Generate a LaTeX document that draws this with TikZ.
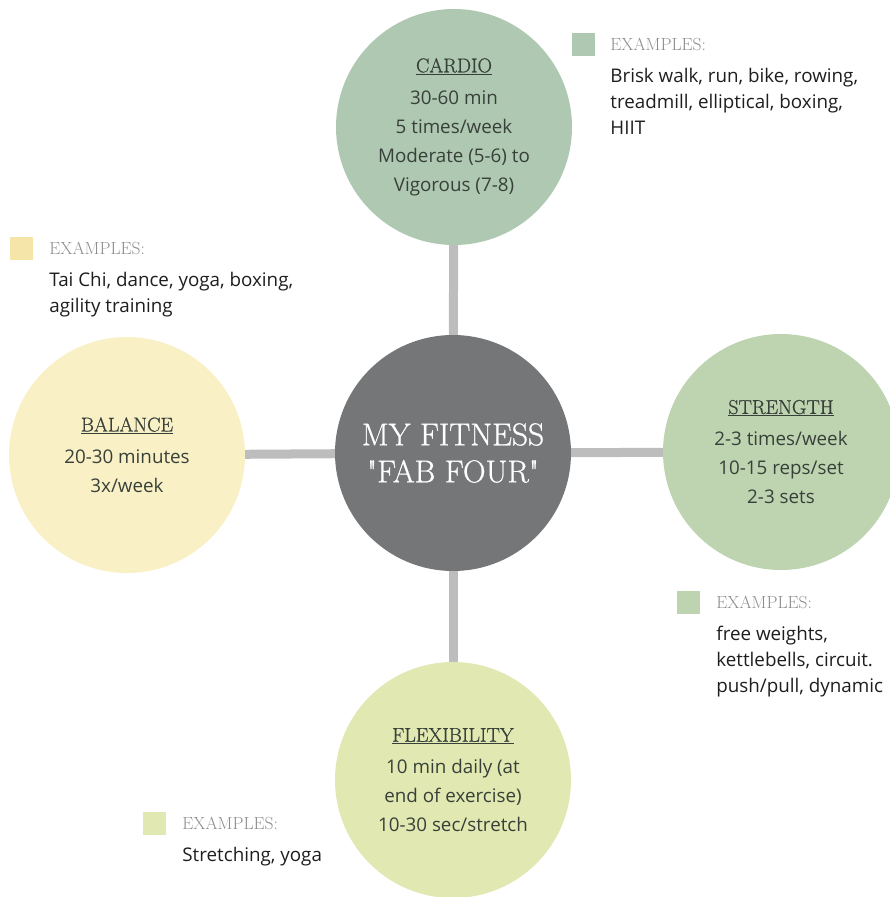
\documentclass[tikz,border=0pt]{standalone}
\usepackage{fontspec}
\usepackage{tikz}
\usetikzlibrary{positioning}
\newfontfamily\bodyfont{Open Sans}
\newfontfamily\headfont[FakeBold=0.8]{Latin Modern Roman}
\definecolor{hubgray}{HTML}{757677}
\definecolor{cardiogreen}{HTML}{AFC8B1}
\definecolor{strengthgreen}{HTML}{BED4B0}
\definecolor{balanceyellow}{HTML}{FAF0C6}
\definecolor{balanceswatch}{HTML}{F6E5A9}
\definecolor{flexlime}{HTML}{E1E8B1}
\definecolor{linkgray}{HTML}{BDBDBD}
\definecolor{circink}{HTML}{37413A}
\definecolor{labelgray}{HTML}{8C8C8C}
\definecolor{exink}{HTML}{1E1E1E}
\tikzset{
  fab/.style={circle, minimum size=236pt, inner sep=0pt, align=center,
    text=circink, font=\bodyfont\fontsize{18.8}{29}\selectfont},
  hub/.style={fab, fill=hubgray, text=white,
    font=\headfont\fontsize{31.5}{37}\selectfont},
  link/.style={draw=linkgray, line width=9pt},
  swatch/.style={minimum size=23pt, inner sep=0pt},
  exlabel/.style={inner sep=0pt, text=labelgray, font=\rmfamily\fontsize{17.5}{20}\selectfont},
  extext/.style={inner sep=0pt, align=left, text=exink,
    font=\bodyfont\fontsize{18.8}{26}\selectfont},
}
\newcommand{\fabhead}[1]{{\headfont\fontsize{20}{22}\selectfont\underline{#1}}\\[3pt]}

\begin{document}
\begin{tikzpicture}[x=1pt, y=-1pt]
\useasboundingbox (0,0) rectangle (890,897);
\clip (0,0) rectangle (890,897);

% ---- the four circles round the hub -----------------------------------
\node[hub] (hub) at (453,453) {MY FITNESS\\\textquotedbl FAB FOUR\textquotedbl};
\node[fab, fill=cardiogreen] (cardio) at (454,127)
  {\fabhead{CARDIO}30-60 min\\5 times/week\\Moderate (5-6) to\\Vigorous (7-8)};
\node[fab, fill=balanceyellow] (balance) at (127,455)
  {\fabhead{BALANCE}20-30 minutes\\3x/week};
\node[fab, fill=strengthgreen] (strength) at (781,452)
  {\fabhead{STRENGTH}2-3 times/week\\10-15 reps/set\\2-3 sets};
\node[fab, fill=flexlime] (flex) at (453,780)
  {\fabhead{FLEXIBILITY}10 min daily (at\\end of exercise)\\10-30 sec/stretch};

\draw[link] (cardio) -- (hub);
\draw[link] (balance) -- (hub);
\draw[link] (strength) -- (hub);
\draw[link] (flex) -- (hub);

% ---- examples ----------------------------------------------------------
\node[swatch, fill=cardiogreen] (cardiosq) at (583.5,44.5) {};
\node[exlabel, right=15pt of cardiosq] (cardiolbl) {EXAMPLES:};
\node[extext, below=17pt of cardiolbl.south west, anchor=north west] (cardioex)
  {Brisk walk, run, bike, rowing,\\treadmill, elliptical, boxing,\\HIIT};

\node[swatch, fill=balanceswatch] (balancesq) at (21.5,248.5) {};
\node[exlabel, right=16pt of balancesq] (balancelbl) {EXAMPLES:};
\node[extext, below=17pt of balancelbl.south west, anchor=north west] (balanceex)
  {Tai Chi, dance, yoga, boxing,\\agility training};

\node[swatch, fill=strengthgreen] (strengthsq) at (688.5,602.5) {};
\node[exlabel, right=16pt of strengthsq] (strengthlbl) {EXAMPLES:};
\node[extext, below=17pt of strengthlbl.south west, anchor=north west] (strengthex)
  {free weights,\\kettlebells, circuit.\\push/pull, dynamic};

\node[swatch, fill=flexlime] (flexsq) at (154.5,823.5) {};
\node[exlabel, right=16pt of flexsq] (flexlbl) {EXAMPLES:};
\node[extext, below=17pt of flexlbl.south west, anchor=north west] (flexex)
  {Stretching, yoga};

\end{tikzpicture}
\end{document}
